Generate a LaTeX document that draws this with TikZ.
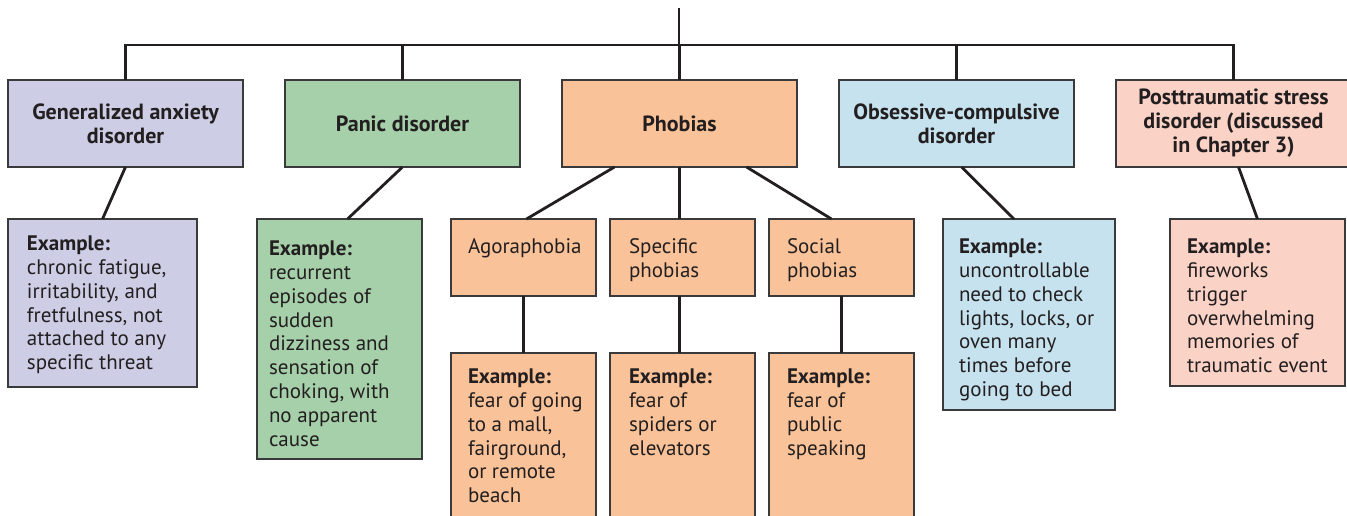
\documentclass[tikz,border=0pt]{standalone}
\usepackage{fontspec}
\setmainfont{PT Sans}
\usetikzlibrary{positioning,calc}
\definecolor{gadfill}{HTML}{CDCDE5}
\definecolor{panicfill}{HTML}{A6D0AA}
\definecolor{phobfill}{HTML}{F9C298}
\definecolor{ocdfill}{HTML}{C5E2EE}
\definecolor{ptsdfill}{HTML}{FAD2C6}
\definecolor{edgegray}{HTML}{3A3A3C}
\definecolor{inkgray}{HTML}{231F20}

\begin{document}
\begin{tikzpicture}[x=1pt, y=-1pt, node distance=42pt,
  every node/.style={inner sep=0pt, outer sep=0pt, text=inkgray},
  catbox/.style={draw=edgegray, line width=1.3pt, minimum width=235pt, minimum height=87pt, align=center, font=\bfseries\fontsize{22}{24}\selectfont},
  exbox/.style={draw=edgegray, line width=1.3pt, anchor=north west},
  extxt/.style={anchor=north west, align=left, font=\fontsize{21}{23.8}\selectfont},
  link/.style={draw=inkgray, line width=2.8pt}]
\useasboundingbox (0,0) rectangle (1347,516);
\clip (0,0) rectangle (1347,516);

\node[catbox, fill=gadfill] (gad) at (125.5,123.5) {Generalized anxiety\\disorder};
\node[catbox, fill=panicfill, right=of gad] (panic) {Panic disorder};
\node[catbox, fill=phobfill, right=of panic] (phob) {Phobias};
\node[catbox, fill=ocdfill, right=of phob] (ocd) {Obsessive-compulsive\\disorder};
\node[catbox, fill=ptsdfill, right=of ocd] (ptsd) {Posttraumatic stress\\disorder (discussed\\in Chapter 3)};

\node[exbox, fill=gadfill, minimum width=189pt, minimum height=168pt] (gadex) at (8,219) {};
\node[extxt] (gadtxt) at (27,236) {\textbf{Example:}\\chronic fatigue,\\irritability, and\\fretfulness, not\\attached to any\\specific threat};
\node[exbox, fill=panicfill, minimum width=165pt, minimum height=240pt] (panicex) at (257,219) {};
\node[extxt] (panictxt) at (269,241) {\textbf{Example:}\\recurrent\\episodes of\\sudden\\dizziness and\\sensation of\\choking, with\\no apparent\\cause};

\node[exbox, fill=phobfill, minimum width=145pt, minimum height=77pt] (agora) at (451,219) {};
\node[extxt] (agoratxt) at (468,239) {Agoraphobia};
\node[exbox, fill=phobfill, minimum width=145pt, minimum height=77pt] (spec) at (610,219) {};
\node[extxt] (spectxt) at (629,239) {Specific\\phobias};
\node[exbox, fill=phobfill, minimum width=145pt, minimum height=77pt] (social) at (769,219) {};
\node[extxt] (socialtxt) at (787,239) {Social\\phobias};

\node[exbox, fill=phobfill, minimum width=145pt, minimum height=180pt, below=57pt of agora] (agoraex) {};
\node[extxt] (agoraextxt) at (468,369) {\textbf{Example:}\\fear of going\\to a mall,\\fairground,\\or remote\\beach};
\node[exbox, fill=phobfill, minimum width=145pt, minimum height=180pt, below=57pt of spec] (specex) {};
\node[extxt] (specextxt) at (629,369) {\textbf{Example:}\\fear of\\spiders or\\elevators};
\node[exbox, fill=phobfill, minimum width=145pt, minimum height=180pt, below=57pt of social] (socialex) {};
\node[extxt] (socialextxt) at (787,369) {\textbf{Example:}\\fear of\\public\\speaking};

\node[exbox, fill=ocdfill, minimum width=172pt, minimum height=191pt] (ocdex) at (943,219) {};
\node[extxt] (ocdtxt) at (959,239) {\textbf{Example:}\\uncontrollable\\need to check\\lights, locks, or\\oven many\\times before\\going to bed};
\node[exbox, fill=ptsdfill, minimum width=175pt, minimum height=167pt] (ptsdex) at (1170,219) {};
\node[extxt] (ptsdtxt) at (1187,239) {\textbf{Example:}\\fireworks\\trigger\\overwhelming\\memories of\\traumatic event};

\coordinate (root) at (679,8);
\coordinate (bus) at (679,45);
\draw[link] (root) -- (bus);
\draw[link] (gad.north) |- (bus) -| (ptsd.north);
\foreach \n in {panic,phob,ocd}
  \draw[link] (\n.north) -- (\n.north |- bus);

\draw[link] (gad.south) -- (gadex.north);
\draw[link] (panic.south) -- ([xshift=8pt]panicex.north);
\draw[link] ([xshift=-65pt]phob.south) -- ([xshift=3pt]agora.north);
\draw[link] (phob.south) -- (phob.south |- spec.north);
\draw[link] ([xshift=67pt]phob.south) -- ([xshift=-10pt]social.north);
\draw[link] ([xshift=5pt]ocd.south) -- ([xshift=-15pt]ocdex.north);
\draw[link] ([xshift=5pt]ptsd.south) -- (ptsdex.north);
\draw[link] (agora.south) -- (agoraex.north);
\draw[link] (phob.south |- spec.south) -- (phob.south |- specex.north);
\draw[link] (social.south) -- (socialex.north);
\end{tikzpicture}
\end{document}
